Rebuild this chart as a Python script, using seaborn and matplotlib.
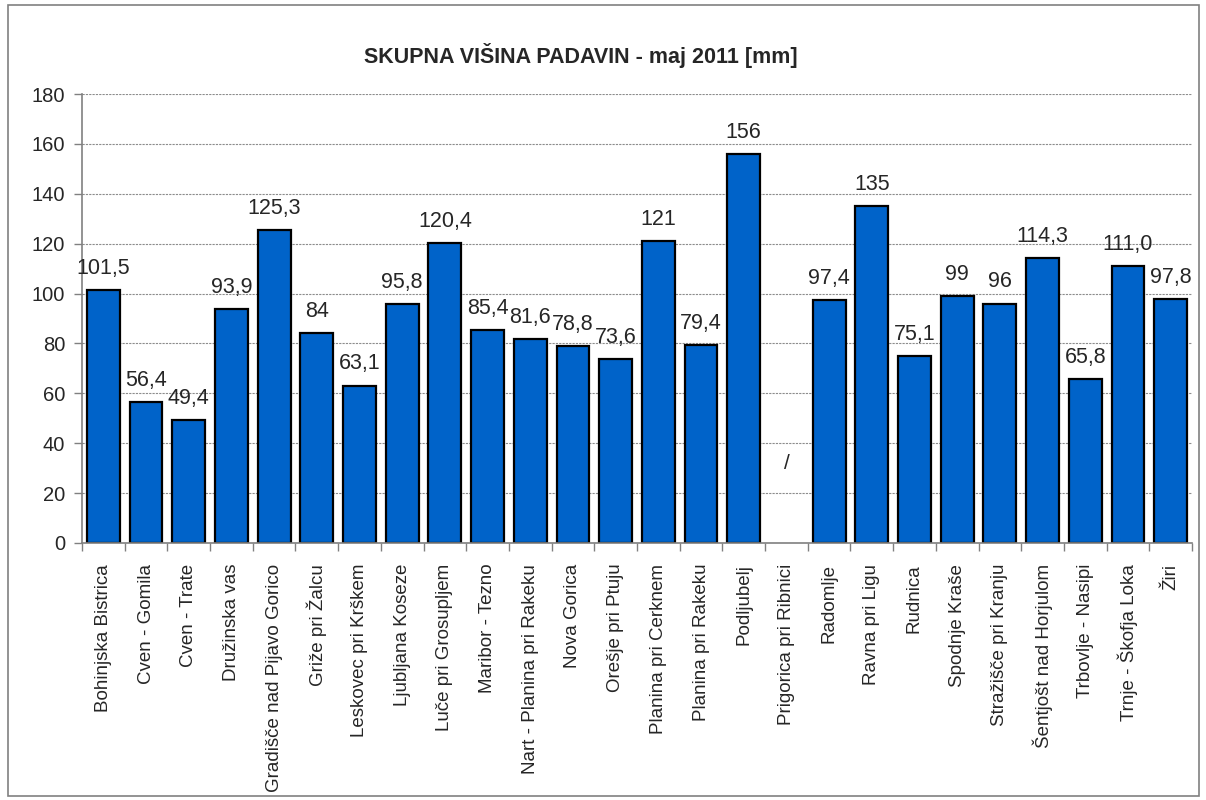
import numpy as np
import pandas as pd
import matplotlib
matplotlib.use("Agg")
import matplotlib.pyplot as plt
import matplotlib.patches as patches
import seaborn as sns

# Podatki
postaje = [
    "Bohinjska Bistrica", "Cven - Gomila", "Cven - Trate", "Družinska vas",
    "Gradišče nad Pijavo Gorico", "Griže pri Žalcu", "Leskovec pri Krškem",
    "Ljubljana Koseze", "Luče pri Grosupljem", "Maribor - Tezno",
    "Nart - Planina pri Rakeku", "Nova Gorica", "Orešje pri Ptuju",
    "Planina pri Cerknem", "Planina pri Rakeku", "Podljubelj",
    "Prigorica pri Ribnici", "Radomlje", "Ravna pri Ligu", "Rudnica",
    "Spodnje Kraše", "Stražišče pri Kranju", "Šentjošt nad Horjulom",
    "Trbovlje - Nasipi", "Trnje - Škofja Loka", "Žiri",
]
padavine = [
    101.5, 56.4, 49.4, 93.9, 125.3, 84, 63.1, 95.8, 120.4, 85.4,
    81.6, 78.8, 73.6, 121, 79.4, 156, np.nan, 97.4, 135, 75.1,
    99, 96, 114.3, 65.8, 111.0, 97.8,
]
oznake = [
    "101,5", "56,4", "49,4", "93,9", "125,3", "84", "63,1", "95,8", "120,4", "85,4",
    "81,6", "78,8", "73,6", "121", "79,4", "156", "/", "97,4", "135", "75,1",
    "99", "96", "114,3", "65,8", "111,0", "97,8",
]
y_ticks = [0, 20, 40, 60, 80, 100, 120, 140, 160, 180]

df = pd.DataFrame({"Postaja": postaje, "Padavine": padavine})

sns.set_style("white")
plt.rcParams["font.family"] = ["Liberation Sans", "DejaVu Sans"]

fig = plt.figure(figsize=(12.06, 8), dpi=100)
ax = fig.add_axes([82 / 1206, 1 - 543 / 800, (1192 - 82) / 1206, (543 - 94) / 800])

sns.barplot(data=df, x="Postaja", y="Padavine", order=postaje, errorbar=None,
            color="#0063C9", saturation=1, width=0.77,
            edgecolor="black", linewidth=1.6, ax=ax)

# Oznake vrednosti
for i, (v, t) in enumerate(zip(padavine, oznake)):
    if np.isnan(v):
        ax.text(i, 32, t, ha="center", va="center", fontsize=15)
    else:
        ax.annotate(t, (i, v), xytext=(0, 8), textcoords="offset points",
                    ha="center", va="bottom", fontsize=15.5)

ax.set_ylim(0, 180)
ax.set_yticks(y_ticks)
ax.set_xlim(-0.5, len(postaje) - 0.5)
ax.set_xlabel("")
ax.set_ylabel("")

ax.yaxis.grid(True, color="#8c8c8c", linestyle=(0, (2, 1)), linewidth=0.8)
ax.set_axisbelow(True)

for s in ["top", "right"]:
    ax.spines[s].set_visible(False)
for s in ["left", "bottom"]:
    ax.spines[s].set_color("#808080")
    ax.spines[s].set_linewidth(1.2)

ax.tick_params(axis="y", which="major", direction="out", length=6, width=1,
               color="#808080", labelsize=14.5, left=True, pad=6)
ax.set_xticks(range(len(postaje)))
ax.set_xticklabels(postaje, rotation=90, fontsize=13.5)
ax.tick_params(axis="x", which="major", length=0, pad=15)
ax.set_xticks(np.arange(-0.5, len(postaje), 1), minor=True)
ax.tick_params(axis="x", which="minor", direction="out", length=6, width=1,
               color="#808080", bottom=True)

fig.text(581 / 1206, 1 - 56 / 800, "SKUPNA VIŠINA PADAVIN - maj 2011 [mm]",
         ha="center", va="center", fontsize=15.5, fontweight="bold")

# Okvir slike
fig.patches.append(patches.Rectangle((8 / 1206, 4 / 800), 1191 / 1206, 791 / 800,
                                     transform=fig.transFigure, fill=False,
                                     edgecolor="#808080", linewidth=1.2))

fig.savefig("out.png", dpi=100)
